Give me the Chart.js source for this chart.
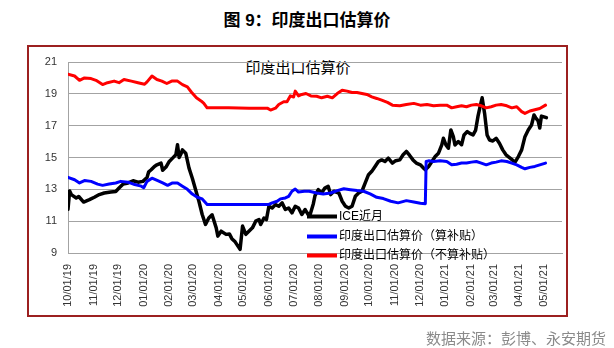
<!DOCTYPE html>
<html>
<head>
<meta charset="utf-8">
<script src="https://cdn.jsdelivr.net/npm/chart.js@4/dist/chart.umd.min.js"></script>
<style>
    body {
        margin: 0;
        width: 614px;
        height: 348px;
        background: #fff;
        position: relative;
        overflow: hidden;
        font-family: "Liberation Sans", "Noto Sans CJK SC", sans-serif;
    }
    #fig-title {
        position: absolute;
        top: 6px;
        left: 0;
        width: 614px;
        text-align: center;
        font-weight: bold;
        font-size: 17px;
        color: #000;
    }
    #frame {
        position: absolute;
        left: 27px;
        top: 45px;
        width: 541px;
        height: 272px;
        border: 2px solid #9c2020;
        box-sizing: border-box;
    }
    #chart-title {
        position: absolute;
        top: 56px;
        left: 0;
        width: 596px;
        text-align: center;
        font-size: 15px;
        color: #000;
    }
    #source {
        position: absolute;
        right: 8px;
        top: 327px;
        font-size: 15px;
        color: #8a8a8a;
    }
    #chart {
        position: absolute;
        left: 0;
        top: 0;
    }
</style>
</head>
<body>
<div id="frame"></div>
<div id="fig-title">图 9：印度出口估算价</div>
<div id="chart-title">印度出口估算价</div>
<canvas id="chart" width="614" height="348"></canvas>
<div id="source">数据来源：彭博、永安期货</div>

<script>
/* =====================
   DATA
===================== */
const seriesLabels = ['ICE近月', '印度出口估算价（算补贴）', '印度出口估算价（不算补贴）'];

const tickLabels = ['10/01/19', '11/01/19', '12/01/19', '01/01/20', '02/01/20', '03/01/20', '04/01/20',
    '05/01/20', '06/01/20', '07/01/20', '08/01/20', '09/01/20', '10/01/20', '11/01/20', '12/01/20',
    '01/01/21', '02/01/21', '03/01/21', '04/01/21', '05/01/21'];

const yTicks = [9, 11, 13, 15, 17, 19, 21];

// ICE 近月
const iceDates = ['2019-10-01', '2019-10-03', '2019-10-05', '2019-10-11', '2019-10-14', '2019-10-20', '2019-10-27',
    '2019-11-02', '2019-11-08', '2019-11-14', '2019-11-22', '2019-11-28', '2019-12-02', '2019-12-07', '2019-12-13',
    '2019-12-19', '2019-12-25', '2019-12-31', '2020-01-05', '2020-01-07', '2020-01-10', '2020-01-14', '2020-01-17',
    '2020-01-22', '2020-01-24', '2020-01-28', '2020-02-01', '2020-02-05', '2020-02-09', '2020-02-11', '2020-02-13',
    '2020-02-15', '2020-02-17', '2020-02-21', '2020-02-25', '2020-02-29', '2020-03-04', '2020-03-08', '2020-03-12',
    '2020-03-16', '2020-03-20', '2020-03-24', '2020-03-29', '2020-03-31', '2020-04-04', '2020-04-10', '2020-04-14',
    '2020-04-17', '2020-04-21', '2020-04-23', '2020-04-27', '2020-04-30', '2020-05-04', '2020-05-08', '2020-05-12',
    '2020-05-16', '2020-05-20', '2020-05-22', '2020-05-26', '2020-05-29', '2020-06-01', '2020-06-05', '2020-06-09',
    '2020-06-13', '2020-06-17', '2020-06-21', '2020-06-25', '2020-06-29', '2020-07-03', '2020-07-07', '2020-07-11',
    '2020-07-15', '2020-07-20', '2020-07-21', '2020-07-25', '2020-07-27', '2020-07-31', '2020-08-04', '2020-08-08',
    '2020-08-12', '2020-08-15', '2020-08-19', '2020-08-25', '2020-08-29', '2020-09-02', '2020-09-06', '2020-09-10',
    '2020-09-14', '2020-09-18', '2020-09-22', '2020-09-26', '2020-09-30', '2020-10-04', '2020-10-08', '2020-10-12',
    '2020-10-16', '2020-10-20', '2020-10-24', '2020-10-29', '2020-11-02', '2020-11-07', '2020-11-11', '2020-11-15',
    '2020-11-19', '2020-11-23', '2020-11-27', '2020-12-02', '2020-12-06', '2020-12-08', '2020-12-12', '2020-12-16',
    '2020-12-20', '2020-12-24', '2020-12-28', '2020-12-30', '2021-01-02', '2021-01-05', '2021-01-08', '2021-01-11',
    '2021-01-13', '2021-01-17', '2021-01-21', '2021-01-24', '2021-01-28', '2021-01-31', '2021-02-04', '2021-02-07',
    '2021-02-10', '2021-02-13', '2021-02-15', '2021-02-18', '2021-02-21', '2021-02-24', '2021-02-28', '2021-03-04',
    '2021-03-08', '2021-03-12', '2021-03-16', '2021-03-21', '2021-03-25', '2021-03-27', '2021-03-31', '2021-04-04',
    '2021-04-08', '2021-04-12', '2021-04-16', '2021-04-19', '2021-04-21', '2021-04-24', '2021-04-26', '2021-04-28',
    '2021-05-01', '2021-05-04'];
const iceValues = [11.75, 12.9, 12.67, 12.46, 12.55, 12.2, 12.35,
    12.5, 12.67, 12.77, 12.83, 12.87, 13.08, 13.33, 13.4,
    13.54, 13.45, 13.5, 13.75, 14.1, 14.23, 14.44, 14.54,
    14.65, 14.2, 14.4, 14.75, 14.96, 15.17, 15.8, 15.0,
    15.2, 15.48, 15.27, 14.33, 13.7, 12.98, 12.25, 11.42,
    10.8, 11.2, 11.4, 10.58, 10.06, 10.37, 10.17, 10.2,
    9.9, 9.7, 9.54, 9.23, 10.69, 10.17, 10.38, 10.58,
    11.0, 11.1, 10.79, 11.2, 11.1, 11.94, 11.83, 12.04,
    11.94, 12.15, 11.73, 11.83, 11.52, 11.94, 11.83, 11.42,
    11.73, 11.31, 11.4, 12.1, 12.6, 12.98, 12.77, 13.08,
    13.19, 12.67, 12.88, 12.77, 12.25, 11.94, 11.83, 11.94,
    12.56, 12.77, 12.88, 13.4, 13.92, 14.13, 14.44, 14.75,
    14.85, 14.75, 14.96, 14.65, 14.8, 14.85, 15.17, 15.38,
    15.13, 14.85, 14.65, 14.54, 14.33, 14.23, 14.44, 14.75,
    15.06, 15.27, 15.79, 16.21, 15.79, 15.58, 16.73, 16.31,
    15.79, 16.0, 15.8, 16.42, 16.63, 16.52, 16.42, 16.7,
    17.6, 18.3, 18.75, 17.77, 16.42, 16.1, 16.04, 16.21,
    15.9, 15.48, 15.17, 14.96, 14.79, 14.71, 15.06, 15.48,
    16.31, 16.73, 17.04, 17.67, 17.5, 17.3, 16.85, 17.6,
    17.55, 17.5];

// 印度出口估算价（算补贴）
const subsidyDates = ['2019-10-01', '2019-10-09', '2019-10-15', '2019-10-21', '2019-10-29', '2019-11-06', '2019-11-12',
    '2019-11-20', '2019-11-28', '2019-12-04', '2019-12-13', '2019-12-21', '2019-12-29', '2020-01-01', '2020-01-05',
    '2020-01-11', '2020-01-18', '2020-01-24', '2020-01-30', '2020-02-05', '2020-02-11', '2020-02-17', '2020-02-23',
    '2020-02-29', '2020-03-06', '2020-03-12', '2020-03-18', '2020-06-01', '2020-06-05', '2020-06-11', '2020-06-15',
    '2020-06-21', '2020-06-25', '2020-06-29', '2020-07-03', '2020-07-07', '2020-07-14', '2020-07-20', '2020-07-29',
    '2020-08-06', '2020-08-15', '2020-08-23', '2020-08-31', '2020-09-08', '2020-09-16', '2020-09-24', '2020-10-02',
    '2020-10-10', '2020-10-18', '2020-10-27', '2020-11-05', '2020-11-15', '2020-11-24', '2020-12-02', '2020-12-08',
    '2020-12-09', '2020-12-12', '2020-12-18', '2020-12-26', '2021-01-03', '2021-01-09', '2021-01-15', '2021-01-21',
    '2021-01-27', '2021-02-02', '2021-02-08', '2021-02-14', '2021-02-20', '2021-02-26', '2021-03-04', '2021-03-10',
    '2021-03-17', '2021-03-23', '2021-03-29', '2021-04-04', '2021-04-08', '2021-04-14', '2021-04-20', '2021-04-26',
    '2021-05-03'];
const subsidyValues = [13.75, 13.6, 13.4, 13.55, 13.5, 13.33, 13.25,
    13.33, 13.4, 13.5, 13.45, 13.3, 13.2, 13.1, 13.5,
    13.7, 13.54, 13.4, 13.25, 13.4, 13.4, 13.2, 13.0,
    12.7, 12.5, 12.4, 12.05, 12.05, 12.15, 12.25, 12.4,
    12.46, 12.56, 12.88, 13.02, 12.83, 12.88, 12.88, 12.77,
    12.71, 12.77, 12.92, 13.04, 12.98, 12.92, 12.88, 12.71,
    12.5, 12.42, 12.25, 12.15, 12.29, 12.21, 12.13, 12.1,
    14.75, 14.79, 14.75, 14.79, 14.75, 14.54, 14.58, 14.65,
    14.65, 14.71, 14.75, 14.65, 14.54, 14.65, 14.71, 14.79,
    14.75, 14.65, 14.54, 14.38, 14.29, 14.38, 14.44, 14.54,
    14.65];

// 印度出口估算价（不算补贴）
const noSubsidyDates = ['2019-10-01', '2019-10-09', '2019-10-15', '2019-10-21', '2019-10-29', '2019-11-04', '2019-11-12',
    '2019-11-18', '2019-11-26', '2019-12-02', '2019-12-08', '2019-12-17', '2019-12-25', '2020-01-02', '2020-01-05',
    '2020-01-11', '2020-01-17', '2020-01-23', '2020-01-29', '2020-02-04', '2020-02-11', '2020-02-17', '2020-02-23',
    '2020-02-28', '2020-03-05', '2020-03-11', '2020-03-14', '2020-03-18', '2020-04-13', '2020-05-08', '2020-05-30',
    '2020-06-03', '2020-06-09', '2020-06-13', '2020-06-19', '2020-06-23', '2020-06-27', '2020-07-01', '2020-07-03',
    '2020-07-07', '2020-07-11', '2020-07-16', '2020-07-22', '2020-07-29', '2020-08-04', '2020-08-11', '2020-08-17',
    '2020-08-23', '2020-08-29', '2020-09-04', '2020-09-10', '2020-09-16', '2020-09-22', '2020-09-28', '2020-10-04',
    '2020-10-10', '2020-10-16', '2020-10-23', '2020-10-29', '2020-11-07', '2020-11-15', '2020-11-24', '2020-12-02',
    '2020-12-10', '2020-12-18', '2020-12-26', '2021-01-03', '2021-01-09', '2021-01-15', '2021-01-21', '2021-01-27',
    '2021-02-02', '2021-02-08', '2021-02-14', '2021-02-20', '2021-02-26', '2021-03-04', '2021-03-10', '2021-03-17',
    '2021-03-23', '2021-03-29', '2021-04-04', '2021-04-08', '2021-04-14', '2021-04-20', '2021-04-26', '2021-05-03'];
const noSubsidyValues = [20.23, 20.12, 19.85, 20.0, 19.96, 19.85, 19.58,
    19.7, 19.8, 19.7, 19.9, 19.8, 19.7, 19.6, 19.75,
    20.12, 19.9, 19.8, 19.65, 19.8, 19.8, 19.58, 19.44,
    19.1, 18.75, 18.54, 18.4, 18.12, 18.12, 18.1, 18.1,
    17.98, 18.1, 18.33, 18.5, 18.5, 18.87, 18.8, 19.17,
    18.87, 18.96, 19.02, 18.87, 18.85, 18.75, 18.85, 18.75,
    19.02, 19.23, 19.17, 19.08, 19.08, 19.02, 18.96, 18.81,
    18.71, 18.6, 18.46, 18.29, 18.25, 18.33, 18.4, 18.29,
    18.33, 18.25, 18.29, 18.29, 18.12, 18.19, 18.25, 18.19,
    18.29, 18.33, 18.25, 18.12, 18.19, 18.29, 18.33, 18.25,
    18.12, 18.19, 17.88, 17.77, 17.92, 18.0, 18.08, 18.29];

const axisStart = '2019-10-01';
const axisEnd = '2021-05-23';

/* =====================
   HELPERS
===================== */
const DAY = 86400000;
const dayIndex = (iso) => (Date.parse(iso) - Date.parse(axisStart)) / DAY;

// '10/01/19' -> days since axisStart
const tickDay = (label) => {
    const [mm, dd, yy] = label.split('/').map(Number);
    return (Date.UTC(2000 + yy, mm - 1, dd) - Date.parse(axisStart)) / DAY;
};

const toPoints = (dates, values) => dates.map((d, i) => ({ x: dayIndex(d), y: values[i] }));

const tickByDay = new Map(tickLabels.map((t) => [tickDay(t), t]));

/* =====================
   LEGEND (inside plot)
===================== */
const insideLegend = {
    id: 'insideLegend',
    afterDatasetsDraw(chart) {
        const ctx = chart.ctx;
        const x0 = 307, x1 = 337, rows = [216.5, 236.5, 255.5];
        ctx.save();
        chart.data.datasets.forEach((ds, i) => {
            const y = rows[i];
            ctx.strokeStyle = ds.borderColor;
            ctx.lineWidth = 4;
            ctx.beginPath();
            ctx.moveTo(x0, y);
            ctx.lineTo(x1, y);
            ctx.stroke();

            ctx.fillStyle = '#000';
            ctx.font = '12px "Liberation Sans", "Noto Sans CJK SC", sans-serif';
            ctx.textBaseline = 'middle';
            ctx.textAlign = 'left';
            ctx.fillText(ds.label, x1 + 2, y);
        });
        ctx.restore();
    },
};

/* =====================
   CHART
===================== */
const GRID = '#a3a3a3';

new Chart(document.getElementById('chart'), {
    type: 'line',
    data: {
        datasets: [
            {
                label: seriesLabels[0],
                data: toPoints(iceDates, iceValues),
                borderColor: '#000000',
                borderWidth: 3.5,
                order: 2,
            },
            {
                label: seriesLabels[1],
                data: toPoints(subsidyDates, subsidyValues),
                borderColor: '#0000ff',
                order: 1,
            },
            {
                label: seriesLabels[2],
                data: toPoints(noSubsidyDates, noSubsidyValues),
                borderColor: '#ff0000',
                order: 0,
            },
        ],
    },
    options: {
        responsive: false,
        animation: false,
        devicePixelRatio: 1,
        layout: { padding: { left: 0, top: 62, right: 52, bottom: 35 } },
        elements: {
            point: { radius: 0 },
            line: { borderWidth: 3, tension: 0, borderJoinStyle: 'round', borderCapStyle: 'round' },
        },
        plugins: {
            legend: { display: false },
            title: { display: false },
            tooltip: { enabled: false },
        },
        scales: {
            x: {
                type: 'linear',
                min: dayIndex(axisStart),
                max: dayIndex(axisEnd),
                afterBuildTicks: (scale) => {
                    scale.ticks = tickLabels.map((t) => ({ value: tickDay(t) }));
                },
                afterFit: (scale) => {
                    scale.height = 60;
                },
                grid: { display: false, drawTicks: false },
                border: { display: true, color: GRID, width: 1 },
                ticks: {
                    autoSkip: false,
                    minRotation: 90,
                    maxRotation: 90,
                    padding: 11,
                    color: '#333',
                    font: { family: '"Liberation Sans", sans-serif', size: 11 },
                    callback: (value) => tickByDay.get(value) || '',
                },
            },
            y: {
                min: yTicks[0],
                max: yTicks[yTicks.length - 1],
                afterBuildTicks: (scale) => {
                    scale.ticks = yTicks.map((v) => ({ value: v }));
                },
                afterFit: (scale) => {
                    scale.width = 68;
                },
                grid: { color: GRID, lineWidth: 1, drawTicks: false },
                border: { display: true, color: GRID, width: 1 },
                ticks: {
                    padding: 11,
                    color: '#333',
                    font: { family: '"Liberation Sans", sans-serif', size: 11 },
                },
            },
        },
    },
    plugins: [insideLegend],
});
</script>
</body>
</html>
